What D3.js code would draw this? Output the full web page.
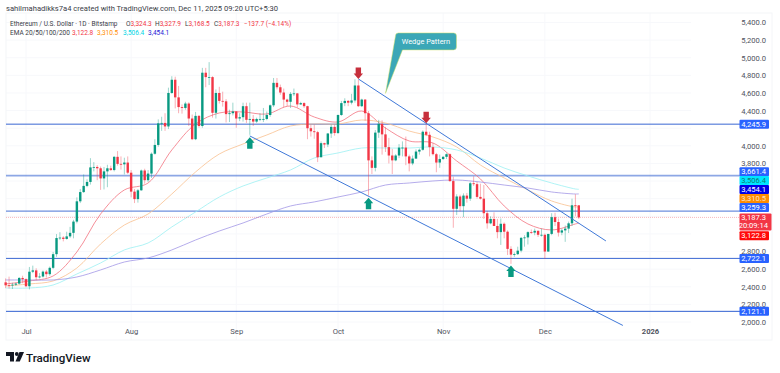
<!DOCTYPE html>
<html>
<head>
<meta charset="utf-8">
<title>ETH/USD</title>
<script src="https://cdn.jsdelivr.net/npm/d3@7"></script>
<style>
    html, body { margin: 0; padding: 0; background: #fff; }
    svg { display: block; }
    text { font-family: Roboto, "Noto Sans", sans-serif; }
</style>
</head>
<body>
<div id="chart"></div>
<script>
// Daily candles, one entry per day starting at firstDay (one line per month)
const firstDay = '2025-06-25';
const opens = [
    2450,2417,2416,2424,2436,2500,
    2486,2406,2571,2586,2508,2516,2572,2543,2615,2770,2953,2958,2943,2972,3012,3140,3370,3475,3545,3590,3755,3760,3745,3630,3710,3745,3725,3875,3795,3790,3810,
    3695,3480,3395,3495,3720,3610,3685,3910,4010,4255,4260,4220,4600,4750,4550,4440,4430,4480,4310,4075,4340,4225,4830,4780,4780,4375,4600,4510,4505,4360,4370,
    4390,4310,4325,4450,4295,4305,4275,4305,4305,4305,4350,4460,4715,4665,4605,4525,4500,4590,4595,4470,4485,4450,4200,4165,4155,3870,4030,4015,4140,4215,
    4145,4350,4485,4510,4490,4515,4685,4450,4525,4370,3835,3750,4150,4250,4130,3985,3890,3835,3890,3980,3980,3880,3800,3855,3935,3955,4160,4125,3985,3905,3810,
    3850,3875,3905,3600,3285,3425,3315,3435,3400,3575,3565,3420,3400,3235,3120,3170,3090,3020,3115,3025,2830,2765,2770,2810,2955,2960,3020,3015,3035,2990,
    2990,2800,3000,3190,3135,3015,3040,3060,3120,3325,3324.3
];
const highs = [
    2495,2515,2445,2445,2510,2525,
    2495,2625,2640,2610,2555,2585,2590,2630,2795,2998,3020,2975,3025,3080,3160,3415,3510,3675,3620,3860,3815,3780,3765,3760,3785,3775,3885,3940,3880,3865,3880,
    3725,3510,3510,3730,3740,3725,3925,4075,4300,4330,4370,4660,4790,4785,4680,4470,4500,4495,4355,4385,4350,4885,4885,4950,4790,4640,4670,4615,4530,4410,4490,
    4395,4370,4490,4490,4490,4350,4320,4370,4430,4390,4470,4770,4770,4695,4650,4535,4610,4650,4600,4500,4495,4455,4240,4240,4170,4050,4035,4145,4240,4240,
    4355,4510,4540,4520,4590,4755,4750,4535,4530,4395,3880,4180,4295,4290,4215,4090,3965,3905,4020,4050,4105,3900,3890,3960,3970,4175,4255,4160,4030,3920,3900,
    3885,3915,3915,3650,3450,3445,3460,3465,3590,3655,3590,3570,3555,3260,3200,3245,3170,3175,3130,3040,2860,2790,2855,2965,2985,3030,3050,3060,3040,3060,
    3005,3000,3235,3240,3175,3060,3095,3140,3400,3450,3327.9
];
const lows = [
    2385,2380,2375,2410,2425,2440,
    2395,2370,2555,2475,2495,2505,2505,2525,2600,2740,2930,2915,2935,2955,2950,3120,3350,3465,3530,3560,3710,3610,3500,3505,3530,3715,3710,3775,3730,3675,3680,
    3415,3350,3355,3490,3570,3590,3635,3900,3990,4170,4170,4190,4590,4425,4370,4365,4410,4225,4065,4065,4205,4205,4665,4690,4320,4310,4480,4445,4265,4270,4345,
    4205,4280,4275,4260,4125,4225,4260,4280,4270,4290,4330,4440,4640,4580,4440,4450,4430,4565,4435,4465,4430,4075,4105,4080,3815,3870,3975,3985,4090,4115,
    4135,4340,4450,4450,4470,4490,4440,4440,4285,3435,3680,3710,4090,3900,3930,3800,3680,3825,3860,3880,3780,3710,3780,3850,3900,3945,4110,3880,3890,3700,3750,
    3840,3850,3590,3070,3215,3255,3190,3355,3375,3545,3400,3390,3170,3060,3110,3090,2950,2875,2950,2760,2660,2740,2760,2790,2855,2880,3000,2985,2965,2970,
    2715,2795,2985,3090,2970,2985,2910,3010,3090,3200,3168.5
];
const closes = [
    2417,2416,2424,2436,2500,2486,
    2406,2571,2586,2508,2516,2572,2543,2615,2770,2953,2958,2943,2972,3012,3140,3370,3475,3545,3590,3755,3760,3745,3630,3710,3745,3725,3875,3795,3790,3810,3695,
    3480,3395,3495,3720,3610,3685,3910,4010,4255,4260,4220,4600,4750,4550,4440,4430,4480,4310,4075,4340,4225,4830,4780,4780,4375,4600,4510,4505,4360,4370,4390,
    4310,4325,4450,4295,4305,4275,4305,4305,4305,4350,4460,4715,4665,4605,4525,4500,4590,4595,4470,4485,4450,4200,4165,4155,3870,4030,4015,4140,4215,4145,
    4350,4485,4510,4490,4515,4685,4450,4525,4370,3835,3750,4150,4250,4130,3985,3890,3835,3890,3980,3980,3880,3800,3855,3935,3955,4160,4125,3985,3905,3810,3850,
    3875,3905,3600,3285,3425,3315,3435,3400,3575,3565,3420,3400,3235,3120,3170,3090,3020,3115,3025,2830,2765,2770,2810,2955,2960,3020,3015,3035,2990,2990,
    2800,3000,3190,3135,3015,3040,3060,3120,3325,3324.3,3187.3
];

// EMA readings, taken every 7 days off the picture (day number from firstDay)
const emaDays = [0,7,14,21,28,35,42,49,56,63,70,77,84,91,98,105,112,119,126,133,140,147,154,161,168,169];
const ema20 = [2432,2466,2523,2795,3226,3499,3578,3953,4248,4373,4384,4361,4452,4327,4271,4395,4202,4055,4032,3828,3624,3317,3113,3045,3113,3122.8];
const ema50 = [2409,2432,2466,2613,2886,3101,3226,3453,3703,3907,4021,4123,4225,4248,4248,4293,4259,4168,4100,3987,3782,3635,3499,3374,3306,3310.5];
const ema100 = [2386,2386,2420,2545,2670,2818,2897,3079,3249,3419,3544,3635,3726,3862,3919,3975,3975,3975,3987,3953,3862,3748,3658,3578,3510,3506.4];
const ema200 = [2477,2477,2477,2511,2591,2681,2727,2818,2931,3033,3124,3226,3317,3363,3419,3476,3555,3578,3601,3612,3589,3555,3521,3476,3453,3454.1];
const emaColors = ['#f2727f', '#f9c08f', '#9cf0f2', '#a297e6'];

// Axis ticks (the ones hidden behind the price badges are left out)
const priceTicks = [2000,2200,2400,2600,2800,3800,4000,4400,4600,4800,5000,5200,5400];
const gridPrices = [2000,2200,2400,2600,2800,3000,3200,3400,3600,3800,4000,4200,4400,4600,4800,5000,5200,5400];
const timeTicks = ['2025-07-01','2025-08-01','2025-09-01','2025-10-01','2025-11-01','2025-12-01','2026-01-01'];
const timeLabels = ['Jul','Aug','Sep','Oct','Nov','Dec','2026'];

// Drawings on the chart
const levels = [4245.9, 3661.4, 3259.3, 2722.1, 2121.1];
const levelWidths = [1, 1.7, 1.3, 1, 1];
const levelOpacity = [0.95, 0.55, 0.7, 0.95, 1];
const trendStarts = [['2025-10-07', 4759], ['2025-09-05', 4112]];
const trendEnds = [['2025-12-19', 2920], ['2025-12-24', 1961]];
const upArrowDays = ['2025-09-05', '2025-10-10', '2025-11-21'];
const upArrowPrices = [4097, 3411, 2640];
const downArrowDays = ['2025-10-07', '2025-10-27'];
const downArrowPrices = [4760, 4256];
const calloutDay = '2025-10-15';
const calloutPrice = 4595;

// Price labels on the right edge, stacked the way TradingView pushes them apart
const badgeTexts = ['4,245.9','3,661.4','3,506.4','3,454.1','3,310.5','3,259.3','3,122.8','2,722.1','2,121.1'];
const badgeCentres = [4245.9, 3707, 3605, 3503, 3401, 3299, 2979, 2722.1, 2121.1];
const badgeFills = ['#2962ff','#2962ff','#00e5ff','#0000e6','#ff8c00','#2962ff','#ff0a0a','#2962ff','#2962ff'];
const badgeInks = ['#fff','#fff','#0b7d73','#fff','#ffe3c2','#fff','#fff','#fff','#fff'];

const width = 780, height = 373;
const parseDay = d3.utcParse('%Y-%m-%d');

const x = d3.scaleUtc()
    .domain([parseDay('2025-07-01'), parseDay('2026-01-01')])
    .range([26, 650]);

const y = d3.scaleLinear()
    .domain([2000, 5400])
    .range([322, 22.5]);

const svg = d3.select('#chart').append('svg')
    .attr('width', width)
    .attr('height', height);

const dayOf = i => d3.utcDay.offset(parseDay(firstDay), i);

// Faint pane grid
const grid = svg.append('g');
grid.selectAll('.h').data(gridPrices).enter().append('line')
    .attr('x1', 6).attr('x2', 691)
    .attr('y1', d => y(d)).attr('y2', d => y(d))
    .attr('stroke', '#f7f8fb');
grid.selectAll('.v').data(timeTicks).enter().append('line')
    .attr('x1', d => x(parseDay(d))).attr('x2', d => x(parseDay(d)))
    .attr('y1', 13).attr('y2', 340)
    .attr('stroke', '#f7f8fb');
grid.append('rect')
    .attr('x', 6).attr('y', 13).attr('width', 766).attr('height', 327)
    .attr('fill', 'none').attr('stroke', '#f4f5f8');

// Price axis on the right
const yAxis = svg.append('g')
    .attr('transform', 'translate(766,0)')
    .call(d3.axisLeft(y).tickValues(priceTicks).tickFormat(d3.format(',.1f')).tickSize(0).tickPadding(0));
yAxis.select('.domain').remove();
yAxis.selectAll('text').attr('font-size', 7.6).attr('fill', '#50535e');

// Time axis
const xAxis = svg.append('g')
    .attr('transform', 'translate(0,329)')
    .call(d3.axisBottom(x)
        .tickValues(timeTicks.map(parseDay))
        .tickFormat((d, i) => timeLabels[i])
        .tickSize(0).tickPadding(0));
xAxis.select('.domain').remove();
xAxis.selectAll('text')
    .attr('font-size', 7.6)
    .attr('fill', '#50535e')
    .attr('font-weight', (d, i) => timeLabels[i] === '2026' ? 700 : 400);

// Horizontal levels
svg.selectAll('.level').data(levels).enter().append('line')
    .attr('x1', 6).attr('x2', 740)
    .attr('y1', d => y(d)).attr('y2', d => y(d))
    .attr('stroke', '#2f5fd0')
    .attr('stroke-opacity', (d, i) => levelOpacity[i])
    .attr('stroke-width', (d, i) => levelWidths[i]);

// EMA lines
const emaLine = d3.line()
    .x((d, i) => x(dayOf(emaDays[i])))
    .y(d => y(d))
    .curve(d3.curveCatmullRom);
[ema20, ema50, ema100, ema200].forEach((series, i) => {
    svg.append('path')
        .attr('d', emaLine(series))
        .attr('fill', 'none')
        .attr('stroke', emaColors[i])
        .attr('stroke-width', 0.8);
});

// Last price line
svg.append('line')
    .attr('x1', 6).attr('x2', 740)
    .attr('y1', y(closes[closes.length - 1])).attr('y2', y(closes[closes.length - 1]))
    .attr('stroke', '#f23645')
    .attr('stroke-opacity', 0.35)
    .attr('stroke-dasharray', '1 1');

// Candles
const candles = svg.append('g');
const candleColor = i => closes[i] >= opens[i] ? '#089981' : '#f23645';
closes.forEach((c, i) => {
    const cx = x(dayOf(i));
    candles.append('line')
        .attr('x1', cx).attr('x2', cx)
        .attr('y1', y(highs[i])).attr('y2', y(lows[i]))
        .attr('stroke', candleColor(i))
        .attr('stroke-opacity', 0.5)
        .attr('stroke-width', 0.8);
    candles.append('rect')
        .attr('x', cx - 1.2)
        .attr('width', 2.4)
        .attr('y', y(Math.max(opens[i], c)))
        .attr('height', Math.max(0.8, Math.abs(y(opens[i]) - y(c))))
        .attr('fill', candleColor(i));
});

// Wedge trend lines
trendStarts.forEach((s, i) => {
    svg.append('line')
        .attr('x1', x(parseDay(s[0]))).attr('y1', y(s[1]))
        .attr('x2', x(parseDay(trendEnds[i][0]))).attr('y2', y(trendEnds[i][1]))
        .attr('stroke', '#3f78d8')
        .attr('stroke-width', 1);
});

// Arrows, drawn around their anchor point
const upShape = 'M0,0 L4.7,5.5 L2.7,5.5 L2.7,11.5 L-2.7,11.5 L-2.7,5.5 L-4.7,5.5 Z';
const downShape = 'M0,0 L-4.7,-5.5 L-2.7,-5.5 L-2.7,-11.5 L2.7,-11.5 L2.7,-5.5 L4.7,-5.5 Z';
upArrowDays.forEach((d, i) => {
    svg.append('path')
        .attr('d', upShape)
        .attr('transform', `translate(${x(parseDay(d))},${y(upArrowPrices[i])})`)
        .attr('fill', '#089981');
});
downArrowDays.forEach((d, i) => {
    svg.append('path')
        .attr('d', downShape)
        .attr('transform', `translate(${x(parseDay(d))},${y(downArrowPrices[i])})`)
        .attr('fill', '#c62f3c');
});

// Wedge Pattern callout, tail tip sits on the chart at calloutDay / calloutPrice
const callout = svg.append('g')
    .attr('transform', `translate(${x(parseDay(calloutDay))},${y(calloutPrice)})`);
callout.append('path')
    .attr('d', 'M0,0 L10,-57.5 Q10,-60.5 13,-60.5 L68,-60.5 Q71,-60.5 71,-57.5 L71,-46.5 Q71,-43.5 68,-43.5 L17,-43.5 Z')
    .attr('fill', '#3ba7b7')
    .attr('stroke', '#d7e46a')
    .attr('stroke-width', 0.5);
callout.append('text')
    .attr('x', 40.5).attr('y', -49.5)
    .attr('text-anchor', 'middle')
    .attr('font-size', 7.4)
    .attr('fill', '#fff')
    .text('Wedge Pattern');

// Right edge badges
const badges = svg.append('g');
badgeTexts.forEach((t, i) => {
    const cy = y(badgeCentres[i]);
    badges.append('rect')
        .attr('x', 739.5).attr('y', cy - 4.5)
        .attr('width', 29.5).attr('height', 9)
        .attr('rx', 1)
        .attr('fill', badgeFills[i]);
    badges.append('text')
        .attr('x', 766).attr('y', cy + 2.7)
        .attr('text-anchor', 'end')
        .attr('font-size', 7.6)
        .attr('fill', badgeInks[i])
        .text(t);
});

// Current price badge with the countdown
const lastY = y(closes[closes.length - 1]);
badges.append('rect')
    .attr('x', 739.5).attr('y', lastY - 4)
    .attr('width', 32).attr('height', 17)
    .attr('rx', 1)
    .attr('fill', '#f23645');
badges.append('text')
    .attr('x', 766).attr('y', lastY + 3)
    .attr('text-anchor', 'end').attr('font-size', 7.6).attr('fill', '#fff')
    .text('3,187.3');
badges.append('text')
    .attr('x', 768).attr('y', lastY + 11)
    .attr('text-anchor', 'end').attr('font-size', 7.6).attr('fill', '#fff')
    .text('20:09:14');

// Header and legend
svg.append('text')
    .attr('x', 6).attr('y', 11)
    .attr('font-size', 7.6).attr('fill', '#3a3d47')
    .text('sahilmahadikks7a4 created with TradingView.com, Dec 11, 2025 09:20 UTC+5:30');

const legendTop = svg.append('text')
    .attr('y', 26)
    .attr('font-size', 6.5).attr('fill', '#3a3d47');
legendTop.append('tspan').attr('x', 10).text('Ethereum / U.S. Dollar · 1D · Bitstamp');
legendTop.append('tspan').attr('x', 126).text('O');
legendTop.append('tspan').attr('fill', '#f23645').text('3,324.3');
legendTop.append('tspan').attr('x', 155).text('H');
legendTop.append('tspan').attr('fill', '#f23645').text('3,327.9');
legendTop.append('tspan').attr('x', 185).text('L');
legendTop.append('tspan').attr('fill', '#f23645').text('3,168.5');
legendTop.append('tspan').attr('x', 214).text('C');
legendTop.append('tspan').attr('fill', '#f23645').text('3,187.3');
legendTop.append('tspan').attr('x', 244).attr('fill', '#f23645').text('−137.7 (−4.14%)');

const legendBottom = svg.append('text')
    .attr('y', 35)
    .attr('font-size', 6.5).attr('fill', '#3a3d47');
legendBottom.append('tspan').attr('x', 10).text('EMA 20/50/100/200');
legendBottom.append('tspan').attr('x', 72).attr('fill', '#f23645').text('3,122.8');
legendBottom.append('tspan').attr('x', 97).attr('fill', '#ff8c00').text('3,310.5');
legendBottom.append('tspan').attr('x', 123).attr('fill', '#00d5e5').text('3,506.4');
legendBottom.append('tspan').attr('x', 148).attr('fill', '#1a1ad6').text('3,454.1');

// TradingView logo
const logo = svg.append('g').attr('transform', 'translate(6,352)').attr('fill', '#131722');
logo.append('path').attr('d', 'M0,0 H8 V9.5 H4 V4 H0 Z');
logo.append('circle').attr('cx', 10.8).attr('cy', 2).attr('r', 1.9);
logo.append('path').attr('d', 'M13.5,0 H18 L13.8,9.5 H9.5 Z');
svg.append('text')
    .attr('x', 26).attr('y', 361.5)
    .attr('font-family', 'Inter, sans-serif')
    .attr('font-size', 11.6)
    .attr('font-weight', 500)
    .attr('fill', '#131722')
    .text('TradingView');
</script>
</body>
</html>
